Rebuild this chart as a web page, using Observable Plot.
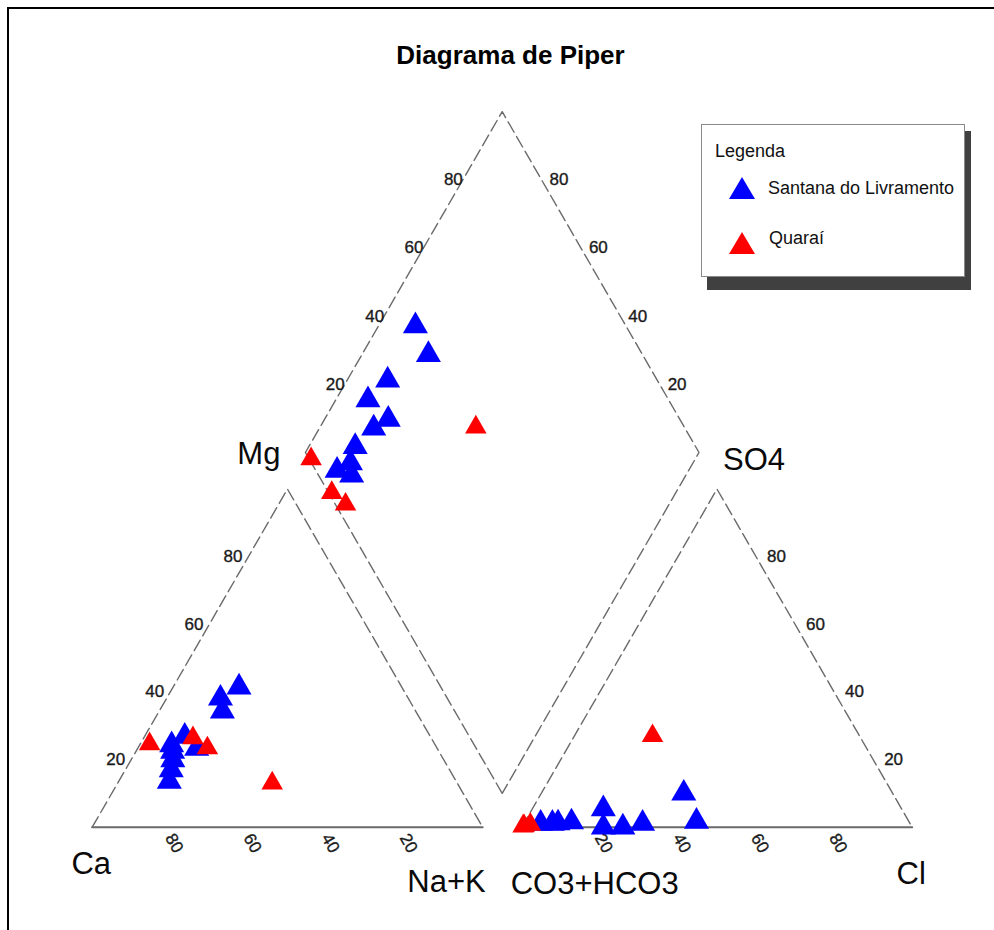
<!DOCTYPE html>
<html>
<head>
<meta charset="utf-8">
<script src="https://cdn.jsdelivr.net/npm/d3@7"></script>
<script src="https://cdn.jsdelivr.net/npm/@observablehq/plot@0.6"></script>
<style>
  body { margin: 0; background: #fff; }
  #wrap { position: relative; width: 994px; height: 930px; overflow: hidden; background: #fff;
          font-family: "Liberation Sans", Arial, sans-serif; color: #111; }
  #frame { position: absolute; left: 7px; top: 7px; right: -20px; bottom: -20px;
           border-left: 2px solid #000; border-top: 2px solid #000; }
  #chart { position: absolute; left: 0; top: 0; }
  #title { position: absolute; left: 0; width: 1021px; text-align: center; top: 42px;
           font-weight: bold; font-size: 26px; line-height: 1; color: #000; }
  #shadow { position: absolute; left: 707px; top: 131px; width: 264px; height: 159px; background: #404040; }
  #legend { position: absolute; left: 701px; top: 124px; width: 262px; height: 151px;
            background: #fff; border: 1px solid #8a8a8a; }
  .lg { position: absolute; white-space: nowrap; line-height: 1; color: #111; }
  .sym { position: absolute; }
</style>
</head>
<body>
<div id="wrap">
  <div id="frame"></div>
  <div id="chart"></div>
  <div id="title">Diagrama de Piper</div>
  <div id="shadow"></div>
  <div id="legend">
    <div class="lg" style="left:13px;top:17px;font-size:18px;">Legenda</div>
    <svg class="sym" style="left:26px;top:51px" width="28" height="24"><polygon points="14,1 27,23 1,23" fill="#0000ff"/></svg>
    <div class="lg" style="left:66px;top:54px;font-size:18px;">Santana do Livramento</div>
    <svg class="sym" style="left:26px;top:106px" width="28" height="24"><polygon points="14,1 27,23 1,23" fill="#ff0000"/></svg>
    <div class="lg" style="left:67px;top:104px;font-size:18px;">Quaraí</div>
  </div>
</div>
<script>
// ---- Data (percent of meq/L) ----
// Santana do Livramento
const santanaCa   = [68.2, 41.7, 62.9, 67.5, 49.5, 48.1, 71.3, 73.5, 69.4, 61.6];
const santanaMg   = [22.4, 41.4, 26.8, 24.3, 34.3, 38.1, 16.9, 13.5, 19.9, 23.3];
const santanaNaK  = [ 9.4, 16.9, 10.3,  8.2, 16.2, 13.8, 11.8, 13.0, 10.7, 15.1];
const santanaHCO3 = [53.5, 54.4, 68.5, 76.4, 74.1, 79.1, 86.5, 90.1, 94.6, 91.6];
const santanaSO4  = [10.0,  1.7,  1.1,  5.4,  0.0,  0.0,  1.5,  1.2,  1.1,  1.1];
const santanaCl   = [36.5, 43.9, 30.4, 18.2, 25.9, 20.9, 12.0,  8.7,  4.3,  7.3];
// Quaraí
const quaraiCa   = [73.0, 61.0, 58.8, 47.4];
const quaraiMg   = [24.6, 26.4, 23.4, 13.0];
const quaraiNaK  = [ 2.4, 12.6, 17.8, 39.6];
const quaraiHCO3 = [99.5, 99.2, 97.4, 53.0];
const quaraiSO4  = [ 0.3,  0.4,  0.8, 27.0];
const quaraiCl   = [ 0.2,  0.4,  1.8, 20.0];

const tickValues = [20, 40, 60, 80];
const seriesNames = ["Santana do Livramento", "Quaraí"];
const seriesColors = ["#0000ff", "#ff0000"];

// ---- Piper geometry (in percent units) ----
const H = Math.sqrt(3) / 2;
const GAP = 10;          // gap between triangles
const D = 100.8;         // diamond side
const B = [100 + GAP / 2, GAP * H]; // diamond bottom vertex
const cat = (ca, mg, na) => { const t = ca + mg + na; mg = 100 * mg / t; na = 100 * na / t; return [na + mg / 2, mg * H]; };
const an  = (hc, so, cl) => { const t = hc + so + cl; so = 100 * so / t; cl = 100 * cl / t; return [100 + GAP + cl + so / 2, so * H]; };
const dia = (s, m) => [B[0] + 0.5 * D / 100 * (s - m), B[1] + H * D / 100 * (s + m)];

function rowsFor(name, Ca, Mg, NaK, HCO3, SO4, Cl) {
  const rows = [];
  Ca.forEach((_, i) => {
    const [cx, cy] = cat(Ca[i], Mg[i], NaK[i]);
    const [ax, ay] = an(HCO3[i], SO4[i], Cl[i]);
    const tc = Ca[i] + Mg[i] + NaK[i], ta = HCO3[i] + SO4[i] + Cl[i];
    const s = 100 * (SO4[i] + Cl[i]) / ta, m = 100 * (Ca[i] + Mg[i]) / tc;
    const [dx, dy] = dia(s, m);
    rows.push({series: name, x: cx, y: cy}, {series: name, x: ax, y: ay}, {series: name, x: dx, y: dy});
  });
  return rows;
}
const blueRows = rowsFor(seriesNames[0], santanaCa, santanaMg, santanaNaK, santanaHCO3, santanaSO4, santanaCl);
const redRows  = rowsFor(seriesNames[1], quaraiCa, quaraiMg, quaraiNaK, quaraiHCO3, quaraiSO4, quaraiCl);

// outlines
const leftTri  = [[0, 0], [50, 100 * H], [100, 0]];
const rightTri = [[110, 0], [160, 100 * H], [210, 0]];
const diamond  = [B, dia(0, 100), dia(100, 100), dia(100, 0), B];
const bases    = [{k: 0, p: [0, 0]}, {k: 0, p: [100, 0]}, {k: 1, p: [110, 0]}, {k: 1, p: [210, 0]}];
const dashed   = [
  ...leftTri.map(p => ({k: "l", p})),
  ...rightTri.map(p => ({k: "r", p})),
  ...diamond.map(p => ({k: "d", p}))
];

const tickColor = "#1a1a1a";
const lineColor = "#6a6a6a";
const tickFont = 17;
const tickStyle = {fontSize: tickFont, fill: tickColor, stroke: tickColor, strokeWidth: 0.35};
const cornerStyle = {fontSize: 31, fill: "#0a0a0a", lineAnchor: "bottom"};

const plot = Plot.plot({
  width: 994, height: 930, margin: 0,
  x: {domain: [0, 210], range: [91.7, 911.7], axis: null},
  y: {domain: [0, 100], range: [826.7, 826.7 - 390.476], axis: null},
  style: {background: "transparent", fontFamily: "'Liberation Sans', Arial, sans-serif", overflow: "visible"},
  marks: [
    Plot.line(dashed, {x: d => d.p[0], y: d => d.p[1], z: "k", stroke: lineColor, strokeWidth: 1.4, strokeDasharray: "12,5"}),
    Plot.line(bases, {x: d => d.p[0], y: d => d.p[1], z: "k", stroke: lineColor, strokeWidth: 2}),
    // left triangle: Mg ticks
    Plot.text(tickValues, {x: t => t / 2, y: t => t * H, text: t => String(t), textAnchor: "end", dx: -6, ...tickStyle}),
    // left triangle: Ca ticks along base
    Plot.text(tickValues, {x: t => 100 - t, y: 0, text: t => String(t), rotate: 60, dx: 4, dy: 16, ...tickStyle}),
    // right triangle: Cl ticks along base
    Plot.text(tickValues, {x: t => 110 + t, y: 0, text: t => String(t), rotate: 60, dx: 4, dy: 16, ...tickStyle}),
    // right triangle: SO4 ticks
    Plot.text(tickValues, {x: t => 210 - t / 2, y: t => t * H, text: t => String(t), textAnchor: "start", dx: 11, ...tickStyle}),
    // diamond upper-left edge (SO4+Cl)
    Plot.text(tickValues, {x: t => dia(t, 100)[0], y: t => dia(t, 100)[1], text: t => String(t), textAnchor: "end", dx: 0, ...tickStyle}),
    // diamond upper-right edge (Ca+Mg)
    Plot.text(tickValues, {x: t => dia(100, t)[0], y: t => dia(100, t)[1], text: t => String(t), textAnchor: "start", dx: 8, ...tickStyle}),
    // corner labels
    Plot.text(["Ca"], {x: 0, y: 0, text: d => d, textAnchor: "middle", dx: -1, dy: 47, ...cornerStyle}),
    Plot.text(["Na+K"], {x: 100, y: 0, text: d => d, textAnchor: "end", dx: 3, dy: 65, ...cornerStyle}),
    Plot.text(["CO3+HCO3"], {x: 110, y: 0, text: d => d, textAnchor: "start", dx: -11, dy: 67, ...cornerStyle}),
    Plot.text(["Cl"], {x: 210, y: 0, text: d => d, textAnchor: "middle", dx: -1, dy: 57, ...cornerStyle}),
    Plot.text(["Mg"], {x: dia(0, 100)[0], y: dia(0, 100)[1], text: d => d, textAnchor: "end", dx: -25, dy: 11, ...cornerStyle}),
    Plot.text(["SO4"], {x: dia(100, 0)[0], y: dia(100, 0)[1], text: d => d, textAnchor: "start", dx: 24, dy: 17, ...cornerStyle}),
    // samples
    Plot.dot(blueRows, {x: "x", y: "y", symbol: "triangle", r: 9.3, fill: seriesColors[0], stroke: "none"}),
    Plot.dot(redRows,  {x: "x", y: "y", symbol: "triangle", r: 8.0, fill: seriesColors[1], stroke: "none"})
  ]
});
document.getElementById("chart").appendChild(plot);
</script>
</body>
</html>
